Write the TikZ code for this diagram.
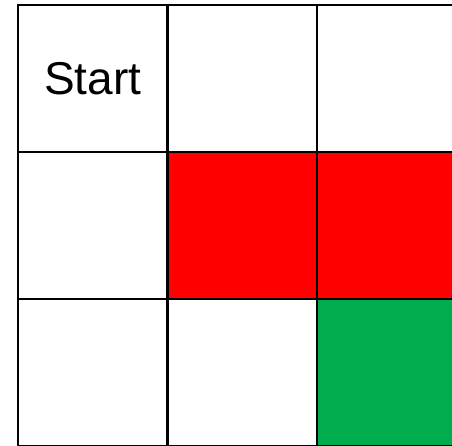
\documentclass[tikz,border=0pt]{standalone}
\usepackage{fontspec}
\setmainfont{Liberation Sans}
\definecolor{cellred}{HTML}{FF0000}
\definecolor{cellgreen}{HTML}{00AD4E}
\begin{document}
\begin{tikzpicture}[x=1pt,y=-1pt,
  cell/.style={draw=black,line width=2.6pt,minimum width=149.5pt,minimum height=147pt,
    inner sep=0pt,outer sep=0pt,anchor=north west,font=\fontsize{46}{50}\selectfont}]
\useasboundingbox (0,0) rectangle (452,445);
\clip (0,0) rectangle (452,445);
\node[cell] (c11) at (18,5) {Start};
\node[cell] (c12) at (167.5,5) {};
\node[cell] (c13) at (317,5) {};
\node[cell] (c21) at (18,152) {};
\node[cell,fill=cellred] (c22) at (167.5,152) {};
\node[cell,fill=cellred] (c23) at (317,152) {};
\node[cell] (c31) at (18,299) {};
\node[cell] (c32) at (167.5,299) {};
\node[cell,fill=cellgreen] (c33) at (317,299) {};
\end{tikzpicture}
\end{document}
